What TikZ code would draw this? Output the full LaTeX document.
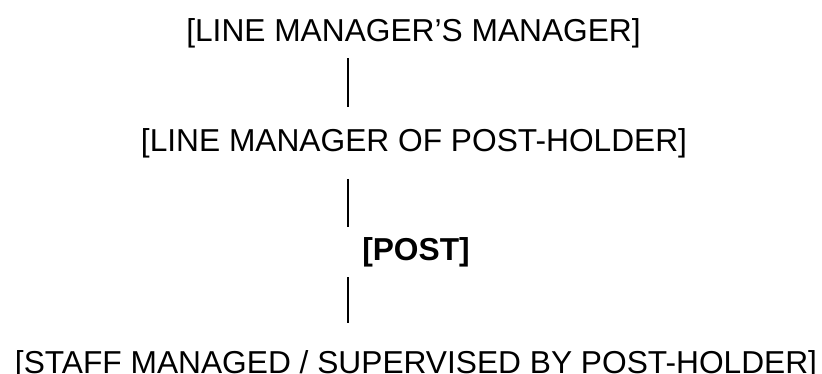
\documentclass[tikz,border=0pt]{standalone}
\usepackage{fontspec}
\setmainfont{Liberation Sans}
\usetikzlibrary{calc}

\begin{document}
\begin{tikzpicture}[x=1pt, y=-1pt,
        role/.style={anchor=base, inner sep=0pt, font=\fontsize{31.7}{38}\selectfont},
        link/.style={line width=1.2pt}]
        \useasboundingbox (0,0) rectangle (822,374);
        \coordinate (axis) at (348,0);
        \node[role] (mm) at (413.5,41.7) {[LINE MANAGER’S MANAGER]};
        \node[role] (lm) at (414,151.7) {[LINE MANAGER OF POST-HOLDER]};
        \node[role, font=\fontsize{31.7}{38}\selectfont\bfseries] (post) at (416,260.7) {[POST]};
        \node[role] (staff) at (416,373.4) {[STAFF MANAGED / SUPERVISED BY POST-HOLDER]};
        \draw[link] ($(mm.base -| axis)+(0,16.6)$) -- ($(lm.base -| axis)+(0,-45)$);
        \draw[link] ($(lm.base -| axis)+(0,27.3)$) -- ($(post.base -| axis)+(0,-33.7)$);
        \draw[link] ($(post.base -| axis)+(0,16.3)$) -- ($(staff.base -| axis)+(0,-50.4)$);
    \end{tikzpicture}
\end{document}
